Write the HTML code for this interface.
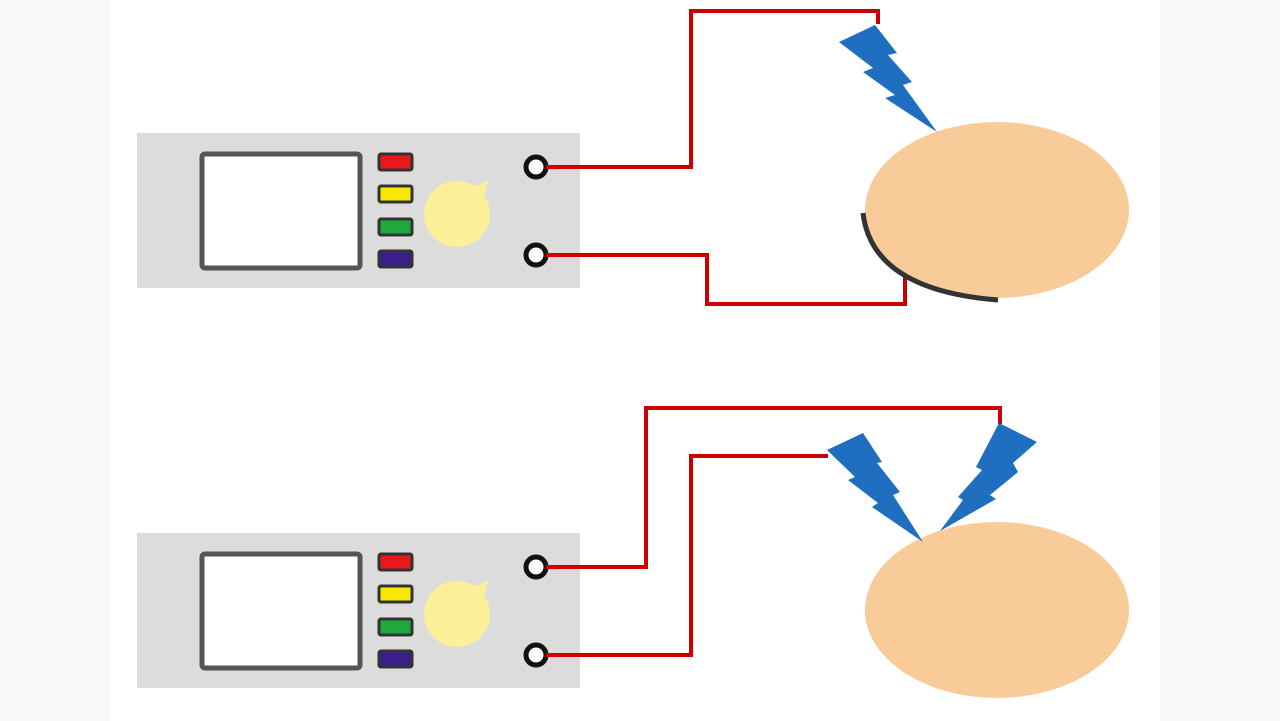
<!DOCTYPE html>
<html><head><meta charset="utf-8"><style>html,body{margin:0;padding:0;background:#fff}svg{display:block}</style></head>
<body>
<svg width="1280" height="721" viewBox="0 0 1280 721" xmlns="http://www.w3.org/2000/svg">
<rect x="0" y="0" width="1280" height="721" fill="#f7f8f9"/>
<rect x="110" y="0" width="1050" height="721" fill="#ffffff"/>
<g id="dev">
<rect x="137" y="133" width="443" height="155" fill="#dcdcdc"/>
<rect x="202" y="154" width="158" height="114" rx="3" fill="#fff" stroke="#555" stroke-width="5"/>
<rect x="379" y="154" width="33" height="16" rx="2" fill="#e8191b" stroke="#333" stroke-width="3"/>
<rect x="379" y="186" width="33" height="16" rx="2" fill="#f7ea00" stroke="#333" stroke-width="3"/>
<rect x="379" y="219" width="33" height="16" rx="2" fill="#1fa83c" stroke="#333" stroke-width="3"/>
<rect x="379" y="251" width="33" height="16" rx="2" fill="#3b1e8c" stroke="#333" stroke-width="3"/>
<circle cx="457" cy="214" r="33" fill="#fbef9a"/>
<polygon points="472,188 488,180 484,198" fill="#fbef9a"/>
<circle cx="536" cy="167" r="10" fill="#fff" stroke="#111" stroke-width="5"/>
<circle cx="536" cy="255" r="10" fill="#fff" stroke="#111" stroke-width="5"/>
</g>
<use href="#dev" transform="translate(0,400)"/>
<g fill="none" stroke="#cc0000" stroke-width="4">
<polyline points="546,167 691,167 691,11 878,11 878,24"/>
<polyline points="546,255 707,255 707,304 905,304 905,276"/>
<polyline points="546,567 646,567 646,408 1000,408 1000,424"/>
<polyline points="546,655 691,655 691,456 828,456"/>
</g>
<ellipse cx="997" cy="210" rx="132" ry="88" fill="#f9cb98"/>
<ellipse cx="997" cy="610" rx="132" ry="88" fill="#f9cb98"/>
<path d="M863,213 Q872,290 998,300" fill="none" stroke="#333" stroke-width="5"/>
<g fill="#1f6ebf">
<polygon points="839,42 875,25 897,53 888,55 912,82 903,85 937,132 885,98 895,95 863,72 873,68"/>
<polygon points="827,450 863,433 882,462 877,463 900,492 893,495 923,542 872,507 878,503 848,480 855,477"/>
<polygon points="999,423 1037,442 1013,463 1018,472 990,495 996,499 940,531 963,500 958,497 982,470 976,467"/>
</g>
</svg>
</body></html>
